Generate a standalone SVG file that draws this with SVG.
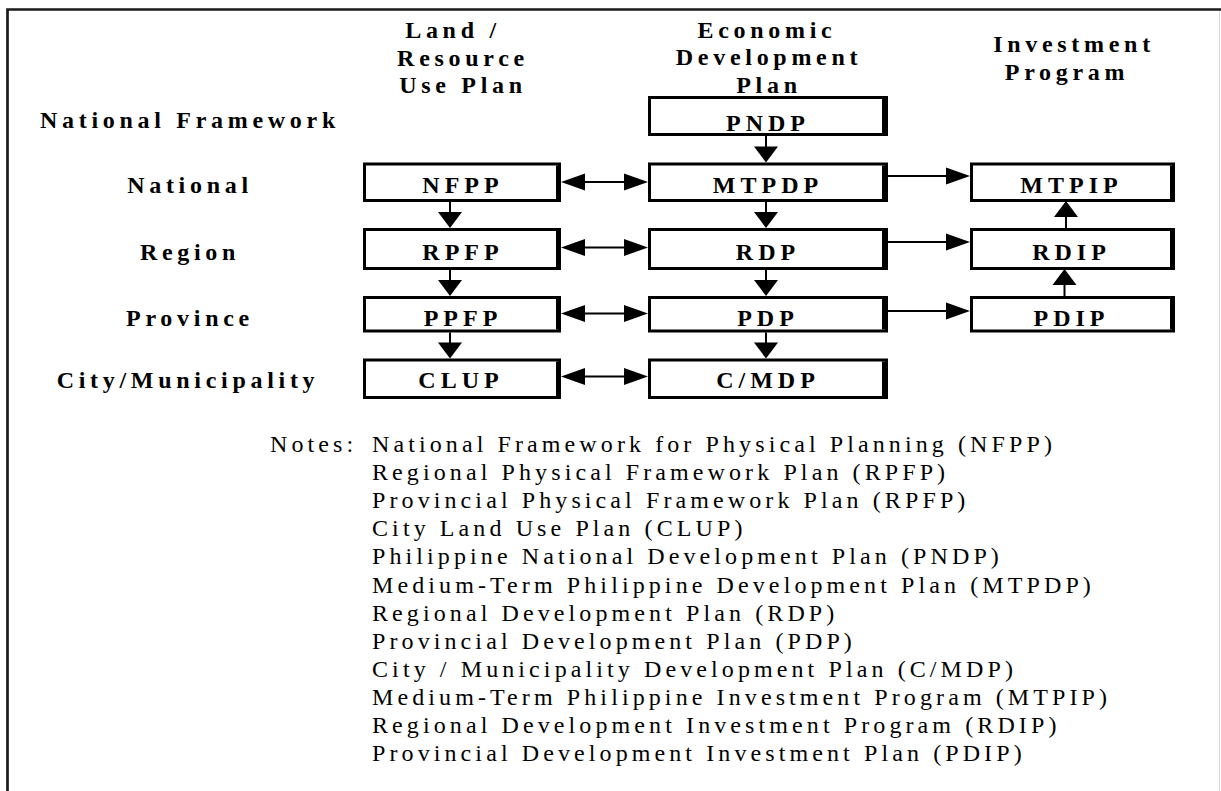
<svg xmlns="http://www.w3.org/2000/svg" width="1221" height="791" viewBox="0 0 1221 791">
<style>
  text { font-family: "Liberation Serif", "Times New Roman", serif; fill: #000; }
  .b { font-weight: bold; font-size: 24px; letter-spacing: 4.7px; text-anchor: middle; }
  .bl { font-weight: bold; font-size: 24px; letter-spacing: 5px; text-anchor: middle; }
  .n { font-size: 24px; letter-spacing: 4.1px; }
  .box { fill: #fff; stroke: #000; stroke-width: 3; }
  .sh { fill: #000; }
  .ln { stroke: #000; stroke-width: 2; fill: none; }
  .h { marker-end: url(#mh); }
  .hh { marker-start: url(#mh); marker-end: url(#mh); }
  .v { marker-end: url(#mv); }
  .frame { fill: none; stroke: #1a1a1a; stroke-width: 2.7; }
</style>
<defs>
  <marker id="mh" markerUnits="userSpaceOnUse" markerWidth="26" markerHeight="18" refX="16" refY="8.5" orient="auto-start-reverse" overflow="visible">
    <path d="M0,0 L24,8.5 L0,17 z" fill="#000"/>
  </marker>
  <marker id="mv" markerUnits="userSpaceOnUse" markerWidth="18" markerHeight="26" refX="8" refY="12" orient="auto-start-reverse" overflow="visible">
    <path d="M0,0 L16,12 L0,24 z" fill="#000"/>
  </marker>
</defs>
<rect width="1221" height="791" fill="#fff"/>
<path class="frame" d="M7.5,795 V9.5 H1225"/>
<line x1="1219.5" y1="11" x2="1219.5" y2="791" stroke="#d8d8d8" stroke-width="1"/>

<g id="headers">
  <text class="b" x="453" y="38">Land /</text>
  <text class="b" x="463" y="66">Resource</text>
  <text class="b" x="463" y="93">Use Plan</text>
  <text class="b" x="767" y="38">Economic</text>
  <text class="b" x="769" y="65">Development</text>
  <text class="b" x="769" y="93">Plan</text>
  <text class="b" x="1074" y="52">Investment</text>
  <text class="b" x="1067" y="80">Program</text>
</g>

<g id="row-labels">
  <text class="b" x="190" y="128">National Framework</text>
  <text class="b" x="190" y="193">National</text>
  <text class="b" x="190" y="260">Region</text>
  <text class="b" x="190" y="326">Province</text>
  <text class="b" x="188" y="388">City/Municipality</text>
</g>

<g id="PNDP">
  <rect class="box" x="649.5" y="97.5" width="237" height="37"/>
  <rect class="sh" x="882" y="99" width="3.5" height="34"/>
  <text class="bl" x="768" y="131">PNDP</text>
</g>

<g id="NFPP">
  <rect class="box" x="364.5" y="164" width="195" height="36.5"/>
  <rect class="sh" x="556" y="165.5" width="2" height="33.5"/>
  <text class="bl" x="463" y="193">NFPP</text>
</g>
<g id="MTPDP">
  <rect class="box" x="649.5" y="164" width="237" height="36.5"/>
  <rect class="sh" x="882" y="165.5" width="3.5" height="33.5"/>
  <text class="bl" x="768" y="193">MTPDP</text>
</g>
<g id="MTPIP">
  <rect class="box" x="971.5" y="164" width="202" height="36.5"/>
  <rect class="sh" x="1170" y="165.5" width="2" height="33.5"/>
  <text class="bl" x="1071.5" y="193">MTPIP</text>
</g>

<g id="RPFP">
  <rect class="box" x="364.5" y="229.5" width="195" height="39"/>
  <rect class="sh" x="556" y="231" width="2" height="36"/>
  <text class="bl" x="463" y="260">RPFP</text>
</g>
<g id="RDP">
  <rect class="box" x="649.5" y="229.5" width="237" height="39"/>
  <rect class="sh" x="882" y="231" width="3.5" height="36"/>
  <text class="bl" x="768" y="260">RDP</text>
</g>
<g id="RDIP">
  <rect class="box" x="971.5" y="229.5" width="202" height="39"/>
  <rect class="sh" x="1170" y="231" width="2" height="36"/>
  <text class="bl" x="1071.5" y="260">RDIP</text>
</g>

<g id="PPFP">
  <rect class="box" x="364.5" y="297.5" width="195" height="33.5"/>
  <rect class="sh" x="556" y="299" width="2" height="30.5"/>
  <text class="bl" x="463" y="326">PPFP</text>
</g>
<g id="PDP">
  <rect class="box" x="649.5" y="297.5" width="237" height="33.5"/>
  <rect class="sh" x="882" y="299" width="3.5" height="30.5"/>
  <text class="bl" x="768" y="326">PDP</text>
</g>
<g id="PDIP">
  <rect class="box" x="971.5" y="297.5" width="202" height="33.5"/>
  <rect class="sh" x="1170" y="299" width="2" height="30.5"/>
  <text class="bl" x="1071.5" y="326">PDIP</text>
</g>

<g id="CLUP">
  <rect class="box" x="364.5" y="360" width="195" height="37.5"/>
  <rect class="sh" x="556" y="361.5" width="2" height="34.5"/>
  <text class="bl" x="461" y="388">CLUP</text>
</g>
<g id="CMDP">
  <rect class="box" x="649.5" y="360" width="237" height="37.5"/>
  <rect class="sh" x="882" y="361.5" width="3.5" height="34.5"/>
  <text class="bl" x="768" y="388">C/MDP</text>
</g>

<g id="connectors">
  <line class="ln v" x1="766" y1="136" x2="766" y2="154.5"/>
  <line class="ln v" x1="766" y1="202" x2="766" y2="220"/>
  <line class="ln v" x1="766" y1="270" x2="766" y2="288"/>
  <line class="ln v" x1="766" y1="332.5" x2="766" y2="350.5"/>
  <line class="ln v" x1="450" y1="202" x2="450" y2="220"/>
  <line class="ln v" x1="450" y1="270" x2="450" y2="288"/>
  <line class="ln v" x1="450" y1="332.5" x2="450" y2="350.5"/>
  <line class="ln hh" x1="569" y1="182" x2="640" y2="182"/>
  <line class="ln hh" x1="569" y1="247.5" x2="640" y2="247.5"/>
  <line class="ln hh" x1="569" y1="313.5" x2="640" y2="313.5"/>
  <line class="ln hh" x1="569" y1="376.5" x2="640" y2="376.5"/>
  <line class="ln h" x1="888" y1="176" x2="962" y2="176"/>
  <line class="ln h" x1="888" y1="242" x2="962" y2="242"/>
  <line class="ln h" x1="888" y1="311" x2="962" y2="311"/>
  <line class="ln v" x1="1066" y1="228" x2="1066" y2="209"/>
  <line class="ln v" x1="1064.5" y1="296" x2="1064.5" y2="277"/>
</g>

<g id="notes">
  <text class="n" x="270" y="452">Notes:</text>
  <text class="n" x="372" y="452">National Framework for Physical Planning (NFPP)</text>
  <text class="n" x="372" y="480.1">Regional Physical Framework Plan (RPFP)</text>
  <text class="n" x="372" y="508.2">Provincial Physical Framework Plan (RPFP)</text>
  <text class="n" x="372" y="536.3">City Land Use Plan (CLUP)</text>
  <text class="n" x="372" y="564.4">Philippine National Development Plan (PNDP)</text>
  <text class="n" x="372" y="592.5">Medium-Term Philippine Development Plan (MTPDP)</text>
  <text class="n" x="372" y="620.6">Regional Development Plan (RDP)</text>
  <text class="n" x="372" y="648.7">Provincial Development Plan (PDP)</text>
  <text class="n" x="372" y="676.8">City / Municipality Development Plan (C/MDP)</text>
  <text class="n" x="372" y="704.9">Medium-Term Philippine Investment Program (MTPIP)</text>
  <text class="n" x="372" y="733">Regional Development Investment Program (RDIP)</text>
  <text class="n" x="372" y="761.1">Provincial Development Investment Plan (PDIP)</text>
</g>
</svg>
